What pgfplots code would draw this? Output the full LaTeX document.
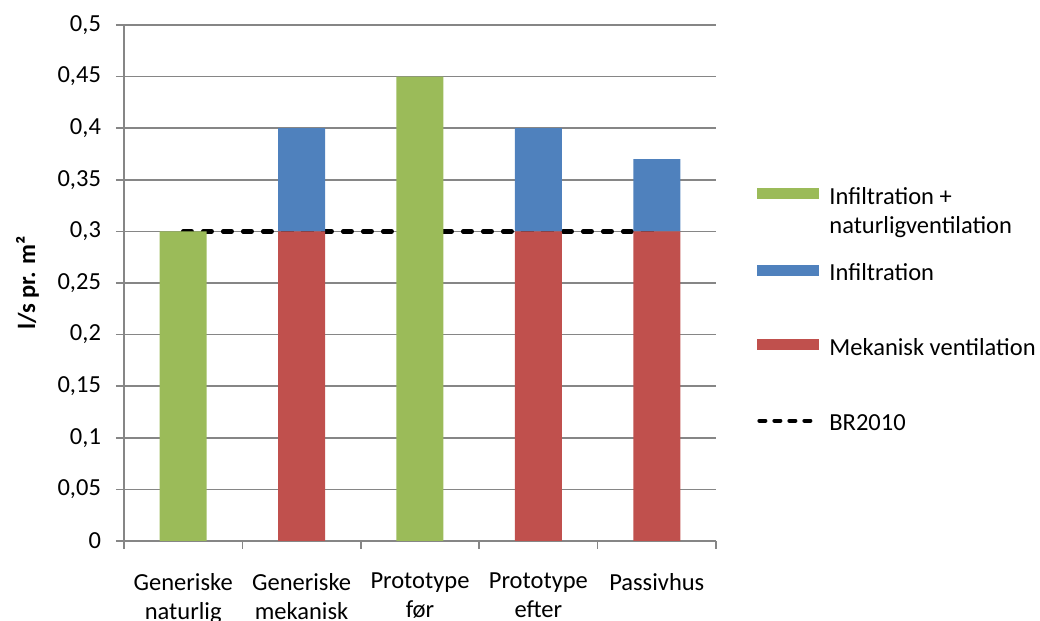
\documentclass[border=0pt]{standalone}
\usepackage{pgfplots}
\pgfplotsset{compat=1.18}
\usepackage{fontspec}
\setmainfont{Carlito}

\definecolor{exgreen}{HTML}{9BBB59}
\definecolor{exblue}{HTML}{4F81BD}
\definecolor{exred}{HTML}{C0504D}
\definecolor{axisgray}{HTML}{868686}

% legend images; the invisible path gives each row its height
\pgfplotsset{
  swatch/.style 2 args={legend image code/.code={
      \path[draw=none, fill=none] (0pt,0pt) -- (0pt,#2);
      \fill[draw=none, fill=#1] (0pt,-1pt) rectangle (31pt,4.5pt);}},
  dashline/.style={legend image code/.code={
      \path[draw=none, fill=none] (0pt,0pt) -- (0pt,#1);
      \draw[black, line width=2pt, line cap=round, dash pattern=on 3pt off 4.5pt]
        (1pt,1.5pt) -- (31pt,1.5pt);}},
}

\begin{document}
\begin{tikzpicture}[font=\fontsize{12.25}{14.5}\selectfont]
  \begin{axis}[
      at={(0pt,0pt)}, anchor=south west,
      scale only axis,
      width=296pt, height=258pt,
      ybar stacked,
      bar width=23.5pt,
      xmin=-0.5, xmax=4.5,
      ymin=0, ymax=0.5,
      axis lines*=left,
      axis line style={axisgray, line width=0.75pt, -},
      tick align=outside,
      major tick length=4pt,
      tick style={axisgray, line width=0.75pt},
      xtick={-0.5,0.5,1.5,2.5,3.5,4.5},
      xticklabels={},
      extra x ticks={0,1,2,3,4},
      extra x tick labels={{Generiske\\naturlig},{Generiske\\mekanisk},{Prototype\\før},{Prototype\\efter},{Passivhus}},
      extra x tick style={major tick length=0pt, grid=none,
        xticklabel style={align=center, yshift=-12.5pt}},
      ytick={0,0.05,0.1,0.15,0.2,0.25,0.3,0.35,0.4,0.45,0.5},
      yticklabels={0,{0,05},{0,1},{0,15},{0,2},{0,25},{0,3},{0,35},{0,4},{0,45},{0,5}},
      yticklabel style={xshift=-4pt},
      ymajorgrids,
      grid style={axisgray, line width=0.75pt},
      every axis y label/.style={at={(axis description cs:-0.163,0.5)}, rotate=90, anchor=center},
      ylabel={\bfseries l/s pr. m²},
      legend style={at={(rel axis cs:1,0.686)}, anchor=north west, xshift=20.5pt,
        draw=none, fill=none, inner sep=0pt, row sep=0pt, column sep=4pt,
        nodes={inner sep=0pt}},
      legend cell align=left,
    ]
    % legend order as in the reference
    \addlegendimage{swatch={exgreen}{5pt}}
    \addlegendentry{\parbox[t]{120pt}{Infiltration +\\naturligventilation}}
    \addlegendimage{swatch={exblue}{33.2pt}}
    \addlegendentry{Infiltration}
    \addlegendimage{swatch={exred}{32.2pt}}
    \addlegendentry{Mekanisk ventilation}
    \addlegendimage{dashline=32.7pt}
    \addlegendentry{BR2010}

    % Mekanisk ventilation
    \addplot[fill=exred, draw=none] coordinates {
      (0,0) (1,0.3) (2,0) (3,0.3) (4,0.3)};
    % Infiltration
    \addplot[fill=exblue, draw=none] coordinates {
      (0,0) (1,0.1) (2,0) (3,0.1) (4,0.07)};
    % Infiltration + naturligventilation
    \addplot[fill=exgreen, draw=none] coordinates {
      (0,0.3) (1,0) (2,0.45) (3,0) (4,0)};
    % BR2010
    \addplot[sharp plot, stack plots=false, black, line width=2.25pt, line cap=round,
      dash pattern=on 4.25pt off 5.75pt] coordinates {(0,0.3) (4,0.3)};
  \end{axis}
  \pgfresetboundingbox
  \path[use as bounding box] (-62pt,-40pt) rectangle (458pt,270.5pt);
\end{tikzpicture}
\end{document}
